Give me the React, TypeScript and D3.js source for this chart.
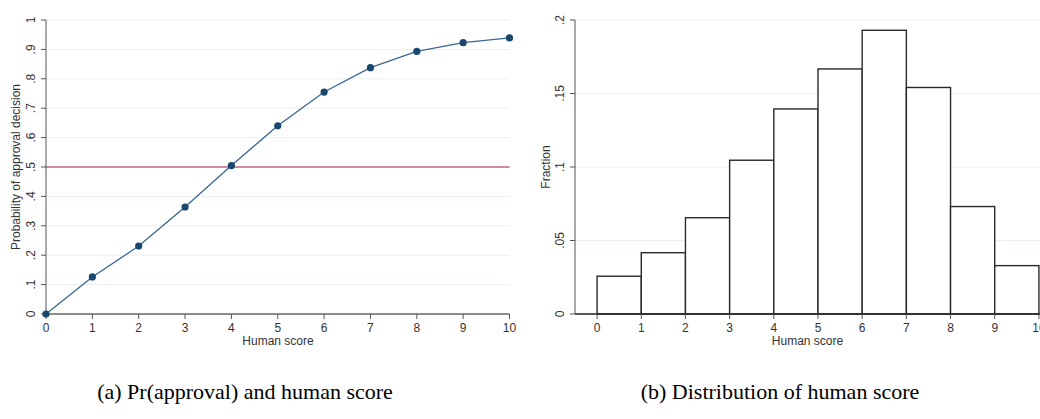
import React, { useMemo } from 'react';
import * as d3 from 'd3';

// panel (a): probability of approval by human score
const scores = [0, 1, 2, 3, 4, 5, 6, 7, 8, 9, 10];
const probApproval = [0, 0.126, 0.231, 0.364, 0.505, 0.64, 0.755, 0.838, 0.893, 0.923, 0.939];
const probTicks = [0, 0.1, 0.2, 0.3, 0.4, 0.5, 0.6, 0.7, 0.8, 0.9, 1];
const probTickLabels = ['0', '.1', '.2', '.3', '.4', '.5', '.6', '.7', '.8', '.9', '1'];

// panel (b): histogram of human score (bins of width 1)
const binStarts = [0, 1, 2, 3, 4, 5, 6, 7, 8, 9];
const fractions = [0.0257, 0.0417, 0.0655, 0.1046, 0.1395, 0.1667, 0.193, 0.1541, 0.0731, 0.0329];
const fracTicks = [0, 0.05, 0.1, 0.15, 0.2];
const fracTickLabels = ['0', '.05', '.1', '.15', '.2'];

const W = 1040;
const H = 419;
const FONT = 'Liberation Sans, Arial, sans-serif';
const GRID = '#e8f0f2';
const AXIS = '#555';
const TXT = '#333';
const FS = 12;

const App = () => {
  const a = useMemo(() => {
    const x = d3.scaleLinear().domain([0, 10]).range([46, 509.5]);
    const y = d3.scaleLinear().domain([0, 1]).range([314, 20]);
    return { x, y };
  }, []);

  const b = useMemo(() => {
    const x = d3.scaleLinear().domain([-0.5, 10.5]).range([575, 1061]);
    const y = d3.scaleLinear().domain([0, 0.2]).range([314, 20]);
    return { x, y };
  }, []);

  const line = d3
    .line<number>()
    .x((_, i) => a.x(scores[i]))
    .y((d) => a.y(d));

  return (
    <svg
      width={W}
      height={H}
      style={{ position: 'absolute', left: 0, top: 0, background: '#fff' }}
      fontFamily={FONT}
    >
      {/* ---------- panel (a) ---------- */}
      <g>
        {probTicks.map((t) => (
          <line key={'ga' + t} x1={a.x(0)} x2={a.x(10)} y1={a.y(t)} y2={a.y(t)} stroke={GRID} strokeWidth={1} />
        ))}
        <line x1={a.x(0)} x2={a.x(10)} y1={a.y(0.5)} y2={a.y(0.5)} stroke="#b02040" strokeWidth={1} />
        {/* y axis */}
        <line x1={a.x(0)} x2={a.x(0)} y1={a.y(0)} y2={a.y(1)} stroke={AXIS} strokeWidth={1} />
        {probTicks.map((t, i) => (
          <g key={'ya' + t} transform={`translate(${a.x(0)},${a.y(t)})`}>
            <line x1={-5} x2={0} stroke={AXIS} />
            <text transform="translate(-11,0) rotate(-90)" textAnchor="middle" fontSize={FS} fill={TXT}>
              {probTickLabels[i]}
            </text>
          </g>
        ))}
        <text transform={`translate(20,${a.y(0.5)}) rotate(-90)`} textAnchor="middle" fontSize={FS} fill={TXT}>
          Probability of approval decision
        </text>
        {/* x axis */}
        <line x1={a.x(0)} x2={a.x(10)} y1={a.y(0)} y2={a.y(0)} stroke="#222" strokeWidth={1} />
        {scores.map((s) => (
          <g key={'xa' + s} transform={`translate(${a.x(s)},${a.y(0)})`}>
            <line y1={0} y2={5} stroke={AXIS} />
            <text y={18} textAnchor="middle" fontSize={FS} fill={TXT}>
              {s}
            </text>
          </g>
        ))}
        <text x={278} y={345} textAnchor="middle" fontSize={FS} fill={TXT}>
          Human score
        </text>
        <path d={line(probApproval) ?? ''} fill="none" stroke="#3a6690" strokeWidth={1.3} />
        {probApproval.map((p, i) => (
          <circle key={'pt' + i} cx={a.x(scores[i])} cy={a.y(p)} r={3.6} fill="#1a476f" />
        ))}
      </g>

      {/* ---------- panel (b) ---------- */}
      <g>
        {fracTicks.map((t) => (
          <line key={'gb' + t} x1={575} x2={W} y1={b.y(t)} y2={b.y(t)} stroke={GRID} strokeWidth={1} />
        ))}
        {fractions.map((f, i) => (
          <rect
            key={'bar' + i}
            x={b.x(binStarts[i])}
            y={b.y(f)}
            width={b.x(binStarts[i] + 1) - b.x(binStarts[i])}
            height={b.y(0) - b.y(f)}
            fill="#fff"
            stroke="#2a2a2a"
            strokeWidth={1.4}
          />
        ))}
        {/* y axis */}
        <line x1={575} x2={575} y1={b.y(0)} y2={b.y(0.2)} stroke={AXIS} strokeWidth={1} />
        {fracTicks.map((t, i) => (
          <g key={'yb' + t} transform={`translate(575,${b.y(t)})`}>
            <line x1={-5} x2={0} stroke={AXIS} />
            <text transform="translate(-11,0) rotate(-90)" textAnchor="middle" fontSize={FS} fill={TXT}>
              {fracTickLabels[i]}
            </text>
          </g>
        ))}
        <text transform={`translate(550,${b.y(0.1)}) rotate(-90)`} textAnchor="middle" fontSize={FS} fill={TXT}>
          Fraction
        </text>
        {/* x axis */}
        <line x1={575} x2={W} y1={b.y(0)} y2={b.y(0)} stroke="#222" strokeWidth={1.4} />
        {scores.map((s) => (
          <g key={'xb' + s} transform={`translate(${b.x(s)},${b.y(0)})`}>
            <line y1={0} y2={5} stroke={AXIS} />
            <text y={18} textAnchor="middle" fontSize={FS} fill={TXT}>
              {s}
            </text>
          </g>
        ))}
        <text x={807.5} y={345} textAnchor="middle" fontSize={FS} fill={TXT}>
          Human score
        </text>
      </g>

      {/* captions */}
      <text x={245} y={399} textAnchor="middle" fontSize={22} fontFamily="Liberation Serif, Times New Roman, serif" fill="#000">
        (a) Pr(approval) and human score
      </text>
      <text x={780} y={399} textAnchor="middle" fontSize={22} fontFamily="Liberation Serif, Times New Roman, serif" fill="#000">
        (b) Distribution of human score
      </text>
    </svg>
  );
};

export default App;
